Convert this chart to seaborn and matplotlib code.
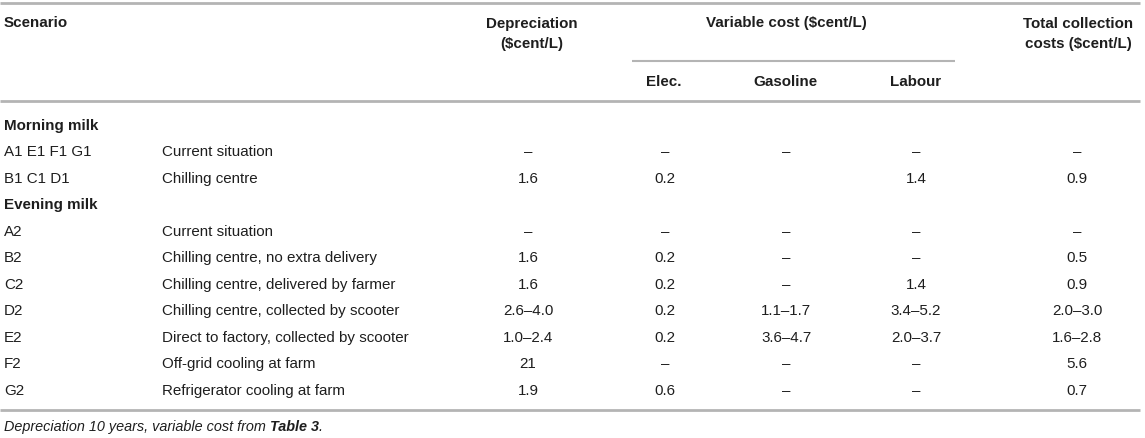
import numpy as np
import pandas as pd
import seaborn as sns
import matplotlib.pyplot as plt

# table content
codes = ['A1 E1 F1 G1', 'B1 C1 D1',
         'A2', 'B2', 'C2', 'D2', 'E2', 'F2', 'G2']
descriptions = ['Current situation', 'Chilling centre',
                'Current situation', 'Chilling centre, no extra delivery',
                'Chilling centre, delivered by farmer', 'Chilling centre, collected by scooter',
                'Direct to factory, collected by scooter', 'Off-grid cooling at farm',
                'Refrigerator cooling at farm']
groups = ['Morning milk', 'Evening milk']
group_of_row = [0, 0, 1, 1, 1, 1, 1, 1, 1]
depreciation = ['–', '1.6', '–', '1.6', '1.6', '2.6–4.0', '1.0–2.4', '21', '1.9']
elec = ['–', '0.2', '–', '0.2', '0.2', '0.2', '0.2', '–', '0.6']
gasoline = ['–', '', '–', '–', '–', '1.1–1.7', '3.6–4.7', '–', '–']
labour = ['–', '1.4', '–', '–', '1.4', '3.4–5.2', '2.0–3.7', '–', '–']
total = ['–', '0.9', '–', '0.5', '0.9', '2.0–3.0', '1.6–2.8', '5.6', '0.7']
footnote = 'Depreciation 10 years, variable cost from '
footnote_bold = 'Table 3'

table = pd.DataFrame({'code': codes, 'desc': descriptions, 'group': group_of_row,
                      'dep': depreciation, 'elec': elec, 'gas': gasoline,
                      'lab': labour, 'tot': total})

sns.set_theme(style='white')
plt.rcParams['font.family'] = ['Liberation Sans', 'DejaVu Sans']

W, H = 1145, 439
fig = plt.figure(figsize=(W / 100, H / 100), dpi=100)
ax = fig.add_axes([0, 0, 1, 1])
ax.set_xlim(0, W)
ax.set_ylim(H, 0)
ax.axis('off')

txt = '#1e1e1e'
rule = '#b4b4b4'
fs = 10.9

# column anchors (pixels)
x_code, x_desc = 4, 162
value_cols = [('dep', 528), ('elec', 665), ('gas', 786), ('lab', 916), ('tot', 1077)]

# header
ax.hlines(4, 0, 1140, color=rule, lw=2)
ax.text(x_code, 23, 'Scenario', ha='left', va='center', fontsize=fs, weight='bold', color=txt)
ax.text(532, 34, 'Depreciation\n($cent/L)', ha='center', va='center', fontsize=fs,
        weight='bold', color=txt, linespacing=1.5)
ax.text(786, 23, 'Variable cost ($cent/L)', ha='center', va='center', fontsize=fs,
        weight='bold', color=txt)
ax.text(1078, 34, 'Total collection\ncosts ($cent/L)', ha='center', va='center', fontsize=fs,
        weight='bold', color=txt, linespacing=1.5)
ax.hlines(62, 632, 955, color=rule, lw=1.5)
for label, xc in [('Elec.', 664), ('Gasoline', 785), ('Labour', 916)]:
    ax.text(xc, 82, label, ha='center', va='center', fontsize=fs, weight='bold', color=txt)
ax.hlines(102, 0, 1140, color=rule, lw=2)

# body rows
y0, dy = 126, 26.5
line = 0
for g, name in enumerate(groups):
    ax.text(x_code, y0 + dy * line, name, ha='left', va='center', fontsize=fs,
            weight='bold', color=txt)
    line += 1
    for _, row in table[table['group'] == g].iterrows():
        y = y0 + dy * line
        ax.text(x_code, y, row['code'], ha='left', va='center', fontsize=fs, color=txt)
        ax.text(x_desc, y, row['desc'], ha='left', va='center', fontsize=fs, color=txt)
        for col, xc in value_cols:
            ax.text(xc, y, row[col], ha='center', va='center', fontsize=fs, color=txt)
        line += 1

ax.hlines(411, 0, 1140, color=rule, lw=2)

# footnote with bold table reference
renderer = fig.canvas.get_renderer()
t1 = ax.text(x_code, 427, footnote, ha='left', va='center', fontsize=fs * 0.95,
             style='italic', color=txt)
bb = t1.get_window_extent(renderer=renderer)
x_next = ax.transData.inverted().transform((bb.x1, 0))[0]
t2 = ax.text(x_next, 427, footnote_bold, ha='left', va='center', fontsize=fs * 0.95,
             style='italic', weight='bold', color=txt)
bb2 = t2.get_window_extent(renderer=renderer)
x_dot = ax.transData.inverted().transform((bb2.x1, 0))[0]
ax.text(x_dot, 427, '.', ha='left', va='center', fontsize=fs * 0.95, style='italic', color=txt)

fig.savefig('out.png', dpi=100, facecolor='white')
